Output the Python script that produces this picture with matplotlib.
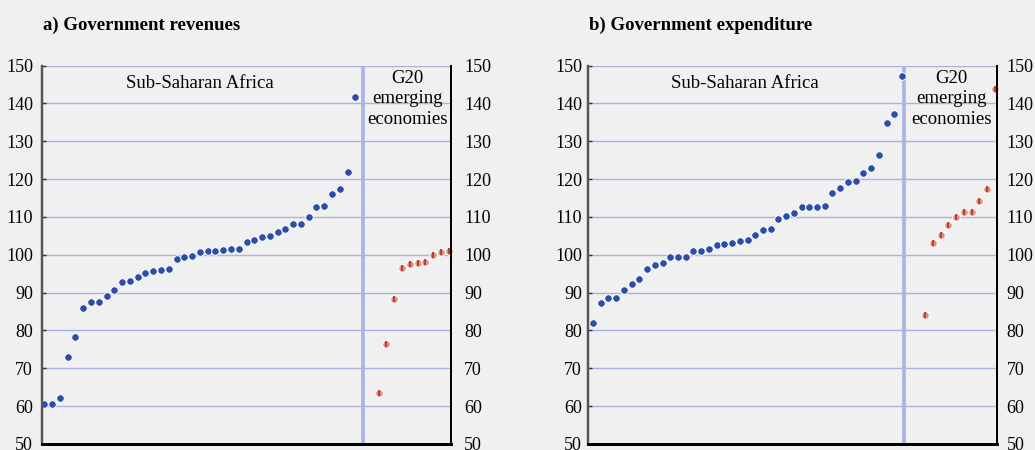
import matplotlib.pyplot as plt
import numpy as np

# values, sorted within each group
rev_ssa = [60.5, 60.6, 62.2, 72.9, 78.3, 86.0, 87.6, 87.6, 89.0, 90.7,
           92.9, 93.1, 94.1, 95.2, 95.8, 96.0, 96.2, 98.9, 99.5, 99.6,
           100.7, 100.9, 101.0, 101.2, 101.4, 101.6, 103.4, 104.0, 104.8, 105.0,
           106.1, 106.7, 108.0, 108.0, 110.0, 112.6, 112.8, 116.1, 117.4, 121.9,
           141.8]
rev_g20 = [63.6, 76.3, 88.2, 96.5, 97.6, 97.8, 98.1, 100.0, 100.7, 101.1]

exp_ssa = [81.9, 87.3, 88.5, 88.7, 90.8, 92.4, 93.7, 96.3, 97.3, 97.7,
           99.3, 99.4, 99.5, 100.9, 101.1, 101.4, 102.6, 102.8, 103.1, 103.6,
           103.9, 105.3, 106.5, 106.9, 109.4, 110.3, 111.1, 112.6, 112.6, 112.7,
           113.0, 116.2, 117.7, 119.2, 119.5, 121.7, 123.0, 126.3, 134.8, 137.2,
           147.2]
exp_g20 = [84.1, 103.2, 105.1, 107.9, 110.0, 111.3, 111.4, 114.3, 117.5, 143.9]

titles = ["a) Government revenues", "b) Government expenditure"]
y_ticks = [50, 60, 70, 80, 90, 100, 110, 120, 130, 140, 150]

BG = "#f0f0f0"
GRID = "#aab1e3"
BLUE = "#2c4ea8"
SALMON = "#d8937f"
DARKRED = "#b8362a"

plt.rcParams["font.family"] = ["Liberation Serif", "DejaVu Serif"]

fig = plt.figure(figsize=(10.35, 4.5), dpi=100, facecolor=BG)


def draw_panel(rect, ssa, g20, title, xlim, sep, lpad, rpad):
    ax = fig.add_axes(rect)
    ax.set_facecolor(BG)
    gap = 2
    x_ssa = np.arange(len(ssa))
    x_g20 = np.arange(len(g20)) + len(ssa) + gap

    for v in y_ticks[1:]:
        ax.axhline(v, color=GRID, lw=1.0, zorder=1)
    ax.axvline(sep, color=GRID, lw=2.6, zorder=1)

    ax.scatter(x_ssa, ssa, s=30, color=BLUE, edgecolor="white",
               linewidth=0.7, zorder=3, clip_on=False)
    ax.scatter(x_g20, g20, s=30, color=SALMON, edgecolor="white",
               linewidth=0.7, zorder=3, clip_on=False)
    ax.plot(x_g20, g20, ls="none", marker="|", ms=4.5, mew=1.3,
            color=DARKRED, zorder=4, clip_on=False)

    ax.set_xlim(*xlim)
    ax.set_ylim(50, 150)
    ax.set_xticks([])
    ax.set_yticks(y_ticks)
    ax.tick_params(axis="y", direction="in", length=3, width=1,
                   labelsize=13, pad=lpad, color="#333333")

    # right-hand scale, same values
    axr = ax.twinx()
    axr.set_ylim(50, 150)
    axr.set_yticks(y_ticks)
    axr.tick_params(axis="y", length=0, labelsize=13, pad=rpad)
    for a in (ax, axr):
        a.spines["top"].set_visible(False)
        a.spines["left"].set_color("#555555")
        a.spines["left"].set_linewidth(1.6)
        a.spines["right"].set_color("black")
        a.spines["right"].set_linewidth(1.4)
        a.spines["bottom"].set_color("black")
        a.spines["bottom"].set_linewidth(2.0)

    ax.text(sep / 2 - 0.5, 145.3, "Sub-Saharan Africa", ha="center",
            va="center", fontsize=13.5, zorder=5)
    ax.text((sep + xlim[1]) / 2 + 0.1, 148.8, "G20\nemerging\neconomies",
            ha="center", va="top", fontsize=13.5, linespacing=1.25, zorder=5)

    fig.text(rect[0] + 0.001, 0.943, title, ha="left", va="center",
             fontsize=13.5, fontweight="bold")
    return ax


draw_panel([42 / 1035, 6 / 450, 409 / 1035, 378.5 / 450],
           rev_ssa, rev_g20, titles[0], (-0.3, 52.3), 41.0, 6.5, 9.4)
draw_panel([588 / 1035, 6 / 450, 409 / 1035, 378.5 / 450],
           exp_ssa, exp_g20, titles[1], (-0.65, 52.3), 40.25, 4.3, 7)

fig.savefig("out.png", dpi=100, facecolor=BG)
